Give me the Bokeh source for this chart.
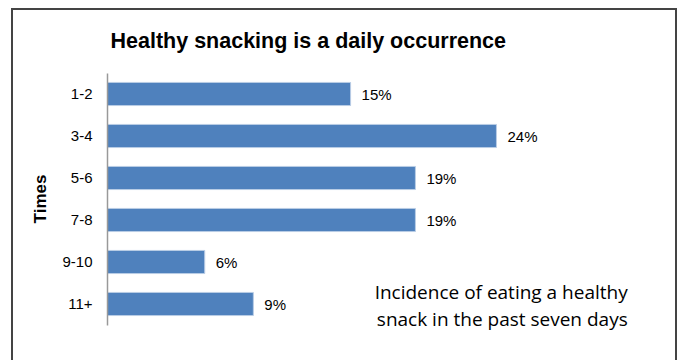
from bokeh.plotting import figure
from bokeh.models import Range1d, FactorRange, ColumnDataSource, Label
from bokeh.embed import file_html
from bokeh.resources import INLINE

categories = ["1-2", "3-4", "5-6", "7-8", "9-10", "11+"]
percentages = [15, 24, 19, 19, 6, 9]
labels = [f"{v}%" for v in percentages]
title_text = "Healthy snacking is a daily occurrence"
axis_title = "Times"
note_lines = ["Incidence of eating a healthy", "snack in the past seven days"]

src = ColumnDataSource(dict(cat=categories, val=percentages, lab=labels))

p = figure(
    width=666, height=352,
    y_range=FactorRange(factors=list(reversed(categories)),
                        range_padding=0.25, range_padding_units="absolute"),
    x_range=Range1d(0, 34),
    output_backend="svg", toolbar_location=None,
    min_border_left=94, min_border_right=21, min_border_top=52, min_border_bottom=27,
    title=title_text,
)
p.margin = (8, 0, 0, 11)
p.styles = {"border-top": "2px solid #444444", "border-left": "2px solid #444444",
            "border-right": "2px solid #444444", "box-sizing": "border-box"}
p.outline_line_color = None
p.background_fill_color = "white"
p.border_fill_color = "white"
p.grid.visible = False
p.xaxis.visible = False

p.title.text_font = "Liberation Sans"
p.title.text_font_style = "bold"
p.title.text_font_size = "21.5px"
p.title.align = "left"
p.title.offset = 3
p.title.standoff = 19
p.title.text_color = "#000000"

ya = p.yaxis[0]
ya.bounds = (0, len(categories))
ya.axis_line_color = "#999999"
ya.axis_line_width = 1.5
ya.major_tick_line_color = None
ya.minor_tick_line_color = None
ya.major_label_text_font = "Liberation Sans"
ya.major_label_text_font_size = "15px"
ya.major_label_text_color = "#000000"
ya.major_label_standoff = 9
ya.axis_label = axis_title
ya.axis_label_text_font = "Liberation Sans"
ya.axis_label_text_font_style = "bold"
ya.axis_label_text_font_size = "17px"
ya.axis_label_text_color = "#000000"
ya.axis_label_standoff = 9

p.hbar(y="cat", right="val", left=0, height=0.55, source=src,
       fill_color="#4F81BD", line_color="#b9cde5", line_width=1)

p.text(x="val", y="cat", text="lab", source=src, x_offset=11,
       text_baseline="middle", text_align="left",
       text_font={"value": "Liberation Sans"}, text_font_size="15px", text_color="#000000")

for line, ypos in zip(note_lines, [0.785, 0.142]):
    p.add_layout(Label(x=32.1, y=ypos, text=line, text_align="right",
                       text_baseline="middle", text_font="Open Sans",
                       text_font_size="19px", text_color="#000000"))

open("out.html", "w").write(file_html(p, INLINE))
